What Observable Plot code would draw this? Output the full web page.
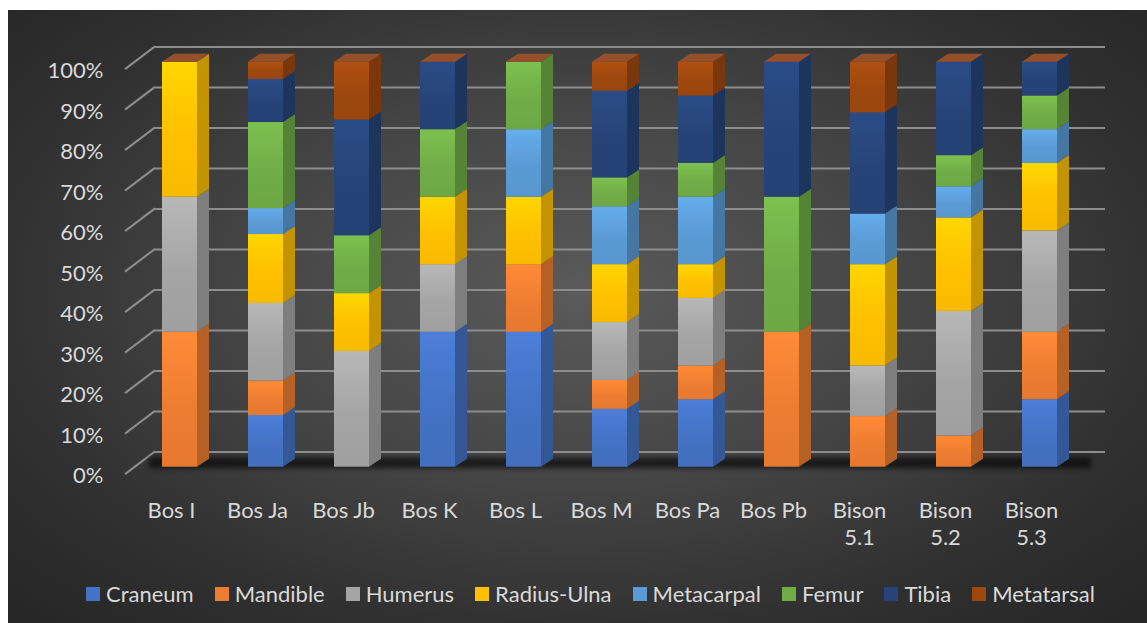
<!DOCTYPE html>
<html>
<head>
<meta charset="utf-8">
<script src="https://cdn.jsdelivr.net/npm/d3@7"></script>
<script src="https://cdn.jsdelivr.net/npm/@observablehq/plot@0.6"></script>
<style>
  html, body { margin: 0; padding: 0; background: #ffffff; width: 1147px; height: 623px; overflow: hidden; }
  #card {
    position: absolute; left: 8px; top: 10px; width: 1139px; height: 613px;
    background: radial-gradient(ellipse 70% 75% at 50% 46%, #5a5a5a 0%, #464646 40%, #303030 75%, #262626 100%);
  }
  #chart { position: absolute; left: 0; top: 0; }
  #legend {
    position: absolute; left: 86px; top: 580px; height: 27px;
    display: flex; align-items: center; white-space: nowrap;
    font: 22px Lato, "Open Sans", sans-serif; color: #d9d9d9;
  }
  #legend .item { display: flex; align-items: center; margin-right: 21px; }
  #legend .sw { width: 14px; height: 14px; margin-right: 6px; }
</style>
</head>
<body>
<div id="card"></div>
<div id="chart"></div>
<div id="legend"></div>
<script>
// Sites (x categories) and skeletal elements (stacked series)
const sites = ["Bos I", "Bos Ja", "Bos Jb", "Bos K", "Bos L", "Bos M", "Bos Pa", "Bos Pb", "Bison 5.1", "Bison 5.2", "Bison 5.3"];
const parts = ["Craneum", "Mandible", "Humerus", "Radius-Ulna", "Metacarpal", "Femur", "Tibia", "Metatarsal"];

// Element counts per site, in the order of `sites`
const craneum    = [0, 6, 0, 2, 2, 2, 2, 0, 0, 0, 2];
const mandible   = [1, 4, 0, 0, 1, 1, 1, 1, 1, 1, 2];
const humerus    = [1, 9, 2, 1, 0, 2, 2, 0, 1, 4, 3];
const radiusUlna = [1, 8, 1, 1, 1, 2, 1, 0, 2, 3, 2];
const metacarpal = [0, 3, 0, 0, 1, 2, 2, 0, 1, 1, 1];
const femur      = [0, 10, 1, 1, 1, 1, 1, 1, 0, 1, 1];
const tibia      = [0, 5, 2, 1, 0, 3, 2, 1, 2, 3, 1];
const metatarsal = [0, 2, 1, 0, 0, 1, 1, 0, 1, 0, 0];

// Percentage axis ticks
const yTicks = [0, 0.1, 0.2, 0.3, 0.4, 0.5, 0.6, 0.7, 0.8, 0.9, 1];

const partColors = ["#4472C4", "#ED7D31", "#A5A5A5", "#FFC000", "#5B9BD5", "#70AD47", "#264478", "#9E480E"];
const series = [craneum, mandible, humerus, radiusUlna, metacarpal, femur, tibia, metatarsal];

// Long table: one row per site × element
const rows = [];
sites.forEach((site, s) => parts.forEach((part, p) => rows.push({site, part, count: series[p][s]})));

const gridColor = "#8d8d8d";
const topColor = "#95502b";
const sideColor = new Map(parts.map((p, i) => [p, d3.color(partColors[i]).darker(0.75).formatHex()]));
const depthX = 12, depthY = 8;
const ns = "http://www.w3.org/2000/svg";
function svgEl(tag, attrs) {
  const e = document.createElementNS(ns, tag);
  for (const k in attrs) e.setAttribute(k, attrs[k]);
  return e;
}

// 3D column: front face drawn by Plot, plus a side face per segment and a lid per column
function bar3d(index, scales, values, dimensions, context, next) {
  const g = next(index, scales, values, dimensions, context);
  const bw = scales.x.bandwidth();
  const X = values.x, Y1 = values.y1, Y2 = values.y2;
  const faces = svgEl("g", {});
  const tops = new Map();
  for (const i of index) {
    const xl = X[i], xr = xl + bw;
    const ya = Math.min(Y1[i], Y2[i]), yb = Math.max(Y1[i], Y2[i]);
    if (!tops.has(xl) || ya < tops.get(xl)) tops.set(xl, ya);
    if (yb - ya < 0.01) continue;
    faces.append(svgEl("polygon", {
      points: `${xr},${ya} ${xr + depthX},${ya - depthY} ${xr + depthX},${yb - depthY} ${xr},${yb}`,
      fill: sideColor.get(rows[i].part)
    }));
  }
  for (const [xl, yt] of tops) {
    faces.append(svgEl("polygon", {
      points: `${xl},${yt} ${xl + depthX},${yt - depthY} ${xl + bw + depthX},${yt - depthY} ${xl + bw},${yt}`,
      fill: topColor
    }));
  }
  g.append(faces);
  return g;
}

// Side wall lines joining the axis labels to the back-wall gridlines
function diagonals(index, scales, values) {
  const g = svgEl("g", {stroke: gridColor, "stroke-width": 2});
  for (const i of index) {
    const y = values.y[i];
    g.append(svgEl("line", {x1: 125, y1: y + 7.4, x2: 155, y2: y - 15.3}));
  }
  return g;
}

// Soft floor shadow under the columns
function blurred(index, scales, values, dimensions, context, next) {
  const g = next(index, scales, values, dimensions, context);
  g.style.filter = "blur(2.5px)";
  return g;
}

const chart = Plot.plot({
  width: 1147,
  height: 560,
  marginTop: 61.7,
  marginBottom: 93.3,
  marginLeft: 155,
  marginRight: 42,
  style: {background: "transparent", color: "#d9d9d9", fontFamily: "Lato, 'Open Sans', sans-serif", fontSize: "22px", overflow: "visible"},
  x: {domain: sites, range: [108.67, 1109.67], padding: 0.5946},
  y: {domain: [0, 1]},
  color: {domain: parts, range: parts.map((d, i) => `url(#face-${i})`)},
  marks: [
    Plot.ruleY(yTicks, {dy: -15.3, stroke: gridColor, strokeWidth: 2}),
    Plot.ruleY(yTicks, {render: diagonals}),
    Plot.ruleY([0], {dy: -4.5, stroke: "#000", strokeWidth: 11, strokeOpacity: 0.6, insetLeft: -6, insetRight: 14, render: blurred}),
    Plot.barY(rows, Plot.stackY({offset: "normalize"}, {x: "site", y: "count", fill: "part", render: bar3d})),
    Plot.axisY({ticks: yTicks, tickSize: 0, tickPadding: 52, dy: 9, tickFormat: d3.format(".0%"), label: null, fill: "#d9d9d9"}),
    Plot.axisX({tickSize: 0, tickPadding: 31, dx: -8.5, label: null, fill: "#d9d9d9", lineHeight: 1.25,
      tickFormat: d => d.replace("Bison ", "Bison\n")})
  ]
});

// Vertical shading on the front faces
const defs = svgEl("defs", {});
partColors.forEach((c, i) => {
  const lg = svgEl("linearGradient", {id: `face-${i}`, x1: 0, y1: 0, x2: 0, y2: 1});
  lg.append(svgEl("stop", {offset: "0%", "stop-color": d3.color(c).brighter(0.3).formatHex()}));
  lg.append(svgEl("stop", {offset: "55%", "stop-color": c}));
  lg.append(svgEl("stop", {offset: "100%", "stop-color": d3.color(c).darker(0.08).formatHex()}));
  defs.append(lg);
});
chart.prepend(defs);
document.getElementById("chart").append(chart);

// Legend
const legend = d3.select("#legend");
parts.forEach((p, i) => {
  const item = legend.append("div").attr("class", "item");
  item.append("div").attr("class", "sw").style("background", partColors[i]);
  item.append("span").text(p);
});
</script>
</body>
</html>
